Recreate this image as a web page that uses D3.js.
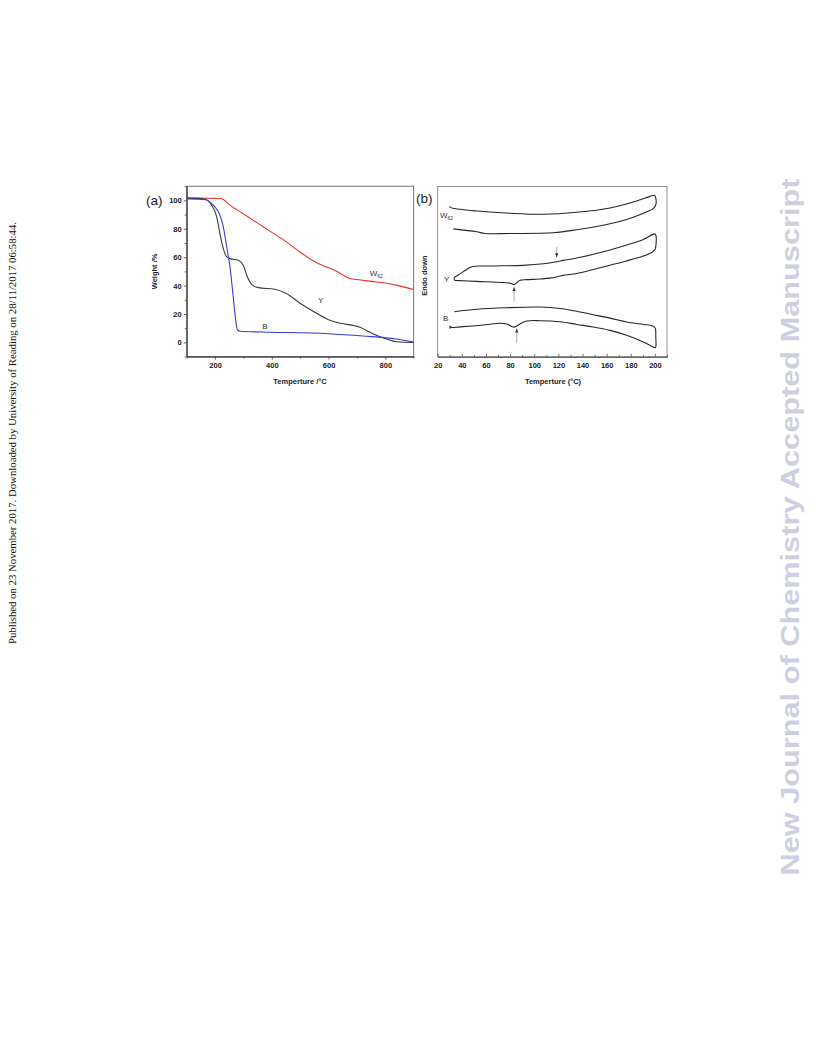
<!DOCTYPE html>
<html>
<head>
<meta charset="utf-8">
<script src="https://cdn.jsdelivr.net/npm/d3@7"></script>
<style>
  html, body { margin: 0; padding: 0; background: #fff; }
  svg { display: block; }
</style>
</head>
<body>
<script>
// ---------- DATA ----------
// Panel (a): TGA, Weight (%) vs Temperature (°C)
const tgaW62 = [[100,101.8],[150,101.6],[200,101.4],[223,101.2],[250,97],[300,90.5],[350,84],[400,77.5],[450,71],[500,63.5],[550,57],[600,52.5],[630,50],[650,47.5],[675,45],[700,44.3],[750,43],[800,41.8],[850,39.8],[900,37.2]];
const tgaY   = [[100,101.6],[140,101.4],[164,101],[188,96.6],[205.7,88.4],[217,76.7],[229,66],[241,60.2],[252.6,59],[282,57.8],[299.5,54.3],[311.5,47.3],[329,40.9],[352,38.6],[411,37.4],[451,34.4],[498,27.8],[545,22],[600,16],[639,13.6],[709,10.8],[756,6.1],[804,2.4],[839,0.5],[899,0]];
const tgaB   = [[100,101],[140,100.9],[166,100.5],[194,96.6],[217,89.6],[229,81.3],[241,67.2],[252.6,53.1],[264,32],[272.7,15.5],[278.4,9],[288,7.8],[368,7.3],[600,6.1],[721,4.5],[839,2.4],[899,0.2]];
const tgaXTicks = [200,400,600,800];
const tgaYTicks = [0,20,40,60,80,100];

// Panel (b): DSC loops, heat flow (arbitrary) vs Temperature (°C)
const dscW62 = [[30.2,88.5],[30.2,87.8],[38.5,86.6],[52.3,85.6],[79.9,84.3],[107.6,83.7],[135.2,84.9],[162.8,87.4],[184.9,91.5],[196.0,94.2],[199.6,94.8],[200.7,93.2],[200.7,89.3],[198.5,87.0],[190.4,84.3],[176.6,80.6],[162.8,78.1],[135.2,74.6],[115.9,72.8],[79.9,72.4],[59.2,72.4],[52.3,73.4],[33.0,75.1]];
const dscY = [[33.8,45.1],[33.8,46.5],[37.0,48.0],[41.2,50.0],[48.2,52.9],[63.3,53.3],[91.0,53.7],[107.6,54.6],[118.6,55.8],[124.1,56.6],[135.2,58.0],[149.0,60.2],[162.8,62.7],[176.6,65.6],[190.4,68.9],[199.6,72.2],[200.7,71.5],[200.9,66.0],[200.1,63.1],[197.3,61.2],[190.4,59.2],[176.6,56.3],[162.8,53.8],[149.0,51.3],[135.2,48.9],[124.1,47.8],[121.3,47.4],[113.1,46.2],[104.8,45.7],[93.8,45.3],[88.2,45.0],[85.6,43.6],[83.4,42.3],[80.5,43.2],[74.4,43.6],[52.3,44.3],[33.8,44.9]];
const dscB = [[33.8,26.5],[52.3,27.9],[77.2,28.8],[104.8,29.2],[121.3,28.4],[135.2,26.7],[149.0,24.7],[162.8,22.7],[176.6,20.4],[190.4,19.0],[197.3,18.3],[200.1,17.1],[200.7,11.7],[200.7,5.8],[200.1,5.4],[190.4,8.7],[176.6,12.6],[162.8,15.5],[149.0,17.5],[135.2,19.0],[121.3,20.6],[104.8,21.2],[93.7,21.0],[88.2,19.3],[83.2,17.4],[77.2,19.3],[71.6,19.7],[63.3,19.1],[49.5,18.1],[38.5,17.6],[31.0,17.3],[30.2,18.1],[30.2,16.5]];
const dscArrows = [
  {x:118.6, y1:64.6, y2:58.4},   // Y upper, pointing down
  {x:83.3,  y1:32.5, y2:41.0},   // Y lower, pointing up
  {x:85.5,  y1:8.0,  y2:16.6}    // B lower, pointing up
];
const dscXTicks = [20,40,60,80,100,120,140,160,180,200];

// ---------- DRAW ----------
const W = 816, H = 1056;
const svg = d3.select("body").append("svg").attr("width", W).attr("height", H);
const FONT = "Liberation Sans, Arial, sans-serif";

// side notices
svg.append("text")
  .attr("transform", "translate(16,433) rotate(-90)")
  .attr("text-anchor", "middle")
  .attr("font-family", "Liberation Serif, Times New Roman, serif")
  .attr("font-size", 10).attr("fill", "#111")
  .attr("textLength", 422).attr("lengthAdjust", "spacingAndGlyphs")
  .text("Published on 23 November 2017. Downloaded by University of Reading on 28/11/2017 06:58:44.");

svg.append("text")
  .attr("transform", "translate(799,527) rotate(-90)")
  .attr("text-anchor", "middle")
  .attr("font-family", FONT).attr("font-weight", "bold")
  .attr("font-size", 26).attr("fill", "#cfcfe2")
  .attr("textLength", 697).attr("lengthAdjust", "spacingAndGlyphs")
  .text("New Journal of Chemistry Accepted Manuscript");

// ---------- Panel (a) ----------
const xa = d3.scaleLinear().domain([100, 900]).range([186.7, 413.7]);
const ya = d3.scaleLinear().domain([-10, 110]).range([356.6, 186.2]);
const ga = svg.append("g");

ga.append("rect").attr("x", xa(100)).attr("y", ya(110))
  .attr("width", xa(900) - xa(100)).attr("height", ya(-10) - ya(110))
  .attr("fill", "none").attr("stroke", "#555").attr("stroke-width", 0.8);

const axA_x = ga.append("g").attr("transform", `translate(0,${ya(-10)})`)
  .call(d3.axisBottom(xa).tickValues(tgaXTicks).tickSize(3).tickSizeOuter(0).tickPadding(3));
const axA_xm = ga.append("g").attr("transform", `translate(0,${ya(-10)})`)
  .call(d3.axisBottom(xa).tickValues([100,300,500,700,900]).tickSize(2).tickSizeOuter(0).tickFormat(""));
const axA_y = ga.append("g").attr("transform", `translate(${xa(100)},0)`)
  .call(d3.axisLeft(ya).tickValues(tgaYTicks).tickSize(3).tickSizeOuter(0).tickPadding(2));
const axA_ym = ga.append("g").attr("transform", `translate(${xa(100)},0)`)
  .call(d3.axisLeft(ya).tickValues([-10,10,30,50,70,90,110]).tickSize(2).tickSizeOuter(0).tickFormat(""));
[axA_x, axA_xm, axA_y, axA_ym].forEach(a => {
  a.selectAll("path").attr("stroke", "#444").attr("stroke-width", 0.8);
  a.selectAll("line").attr("stroke", "#444").attr("stroke-width", 0.8);
  a.selectAll("text").attr("font-family", FONT).attr("font-weight", "bold")
    .attr("font-size", 7.5).attr("fill", "#222");
});

const lineA = d3.line().x(d => xa(d[0])).y(d => ya(d[1])).curve(d3.curveMonotoneX);
ga.append("clipPath").attr("id", "clipA").append("rect")
  .attr("x", xa(100)).attr("y", ya(110)).attr("width", xa(900) - xa(100)).attr("height", ya(-10) - ya(110));
const plotA = ga.append("g").attr("clip-path", "url(#clipA)");
plotA.append("path").datum(tgaW62).attr("d", lineA).attr("fill", "none").attr("stroke", "#e8322e").attr("stroke-width", 1.1);
plotA.append("path").datum(tgaY).attr("d", lineA).attr("fill", "none").attr("stroke", "#3a3a3a").attr("stroke-width", 1.1);
plotA.append("path").datum(tgaB).attr("d", lineA).attr("fill", "none").attr("stroke", "#3b3bd8").attr("stroke-width", 1.1);

const lblW = ga.append("text").attr("x", xa(745)).attr("y", ya(46.5))
  .attr("font-family", FONT).attr("font-size", 8).attr("fill", "#333");
lblW.append("tspan").text("W");
lblW.append("tspan").attr("font-size", 5).attr("dy", 2).text("62");
ga.append("text").attr("x", xa(572)).attr("y", ya(27.5)).attr("text-anchor", "middle")
  .attr("font-family", FONT).attr("font-size", 8).attr("fill", "#333").text("Y");
ga.append("text").attr("x", xa(376)).attr("y", ya(9.5)).attr("text-anchor", "middle")
  .attr("font-family", FONT).attr("font-size", 8).attr("fill", "#333").text("B");

ga.append("text").attr("x", 146).attr("y", 205)
  .attr("font-family", FONT).attr("font-size", 13.5).attr("fill", "#222").text("(a)");
ga.append("text").attr("transform", `translate(157,${(ya(-10) + ya(110)) / 2}) rotate(-90)`)
  .attr("text-anchor", "middle").attr("font-family", FONT).attr("font-weight", "bold")
  .attr("font-size", 7.5).attr("fill", "#222").text("Weight /%");
ga.append("text").attr("x", 300).attr("y", 384).attr("text-anchor", "middle")
  .attr("font-family", FONT).attr("font-weight", "bold")
  .attr("font-size", 7.5).attr("fill", "#222").text("Temperture /\u00B0C");

// ---------- Panel (b) ----------
const xb = d3.scaleLinear().domain([20, 210]).range([437.7, 667]);
const yb = d3.scaleLinear().domain([0, 100]).range([356.8, 186.5]);
const gb = svg.append("g");

gb.append("rect").attr("x", xb(20)).attr("y", yb(100))
  .attr("width", xb(210) - xb(20)).attr("height", yb(0) - yb(100))
  .attr("fill", "none").attr("stroke", "#777").attr("stroke-width", 0.8);

const axB_x = gb.append("g").attr("transform", `translate(0,${yb(0)})`)
  .call(d3.axisBottom(xb).tickValues(dscXTicks).tickSize(-3).tickSizeOuter(0).tickPadding(6));
const axB_xm = gb.append("g").attr("transform", `translate(0,${yb(0)})`)
  .call(d3.axisBottom(xb).tickValues([30,50,70,90,110,130,150,170,190,210]).tickSize(-2).tickSizeOuter(0).tickFormat(""));
[axB_x, axB_xm].forEach(a => {
  a.selectAll("path").attr("stroke", "#555").attr("stroke-width", 0.8);
  a.selectAll("line").attr("stroke", "#555").attr("stroke-width", 0.8);
  a.selectAll("text").attr("font-family", FONT).attr("font-weight", "bold")
    .attr("font-size", 7.5).attr("fill", "#222");
});

const lineB = d3.line().x(d => xb(d[0])).y(d => yb(d[1])).curve(d3.curveCatmullRom.alpha(0.5));
[dscW62, dscY, dscB].forEach(s => {
  gb.append("path").datum(s).attr("d", lineB).attr("fill", "none")
    .attr("stroke", "#262626").attr("stroke-width", 1.1).attr("stroke-linejoin", "round");
});

dscArrows.forEach(a => {
  const dir = a.y2 > a.y1 ? -1 : 1;
  const x = xb(a.x), y1 = yb(a.y1), y2 = yb(a.y2);
  gb.append("line").attr("x1", x).attr("x2", x).attr("y1", y1).attr("y2", y2)
    .attr("stroke", "#999").attr("stroke-width", 0.8);
  gb.append("path")
    .attr("d", `M${x},${y2} L${x - 1.6},${y2 - dir * 4} L${x + 1.6},${y2 - dir * 4} Z`)
    .attr("fill", "#333");
});

const lblW2 = gb.append("text").attr("x", 440).attr("y", 218)
  .attr("font-family", FONT).attr("font-size", 8).attr("fill", "#333");
lblW2.append("tspan").text("W");
lblW2.append("tspan").attr("font-size", 5).attr("dy", 2).text("62");
gb.append("text").attr("x", 444).attr("y", 281.5)
  .attr("font-family", FONT).attr("font-size", 8).attr("fill", "#333").text("Y");
gb.append("text").attr("x", 443).attr("y", 320.5)
  .attr("font-family", FONT).attr("font-size", 8).attr("fill", "#333").text("B");

gb.append("text").attr("x", 416).attr("y", 203)
  .attr("font-family", FONT).attr("font-size", 13.5).attr("fill", "#222").text("(b)");
gb.append("text").attr("transform", `translate(427,${(yb(0) + yb(100)) / 2 + 4}) rotate(-90)`)
  .attr("text-anchor", "middle").attr("font-family", FONT).attr("font-weight", "bold")
  .attr("font-size", 7.5).attr("fill", "#222").text("Endo down");
gb.append("text").attr("x", 553).attr("y", 384).attr("text-anchor", "middle")
  .attr("font-family", FONT).attr("font-weight", "bold")
  .attr("font-size", 7.5).attr("fill", "#222").text("Temperture (\u00B0C)");
</script>
</body>
</html>
